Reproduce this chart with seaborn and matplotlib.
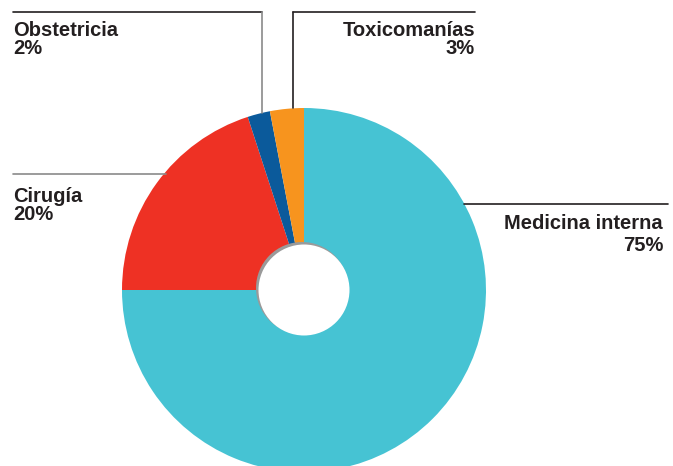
import matplotlib
matplotlib.use('Agg')
import matplotlib.pyplot as plt
import seaborn as sns
from matplotlib.patches import Circle

sns.set_theme(style="white")
plt.rcParams['font.family'] = ['Liberation Sans', 'DejaVu Sans']

# data
labels = ["Medicina interna", "Cirugía", "Obstetricia", "Toxicomanías"]
shares = [75, 20, 2, 3]
colors = ["#46C3D3", "#EE3124", "#0B5A9B", "#F7941E"]

W, H = 673, 466
fig = plt.figure(figsize=(W / 100, H / 100), dpi=100)
ax = fig.add_axes([0, 0, 1, 1])

cx, cy, R = 304, H - 290, 182
ax.pie(shares, colors=colors, startangle=90, counterclock=False,
       center=(cx, cy), radius=R, frame=True,
       wedgeprops=dict(linewidth=0))

# hole with a soft grey rim on the upper left
ax.add_patch(Circle((cx - 2, cy + 2), 46, color="#9a9a9a", lw=0, zorder=3))
ax.add_patch(Circle((cx, cy), 45.5, color="white", lw=0, zorder=4))

ax.set_xlim(0, W)
ax.set_ylim(0, H)
ax.axis('off')

dark, grey = "#231f20", "#8a8a8a"

def y(p):
    return H - p

# leader lines
ax.plot([13, 262], [y(12), y(12)], color=dark, lw=1.2)
ax.plot([262, 262], [y(12), y(113)], color=grey, lw=1.2)
ax.plot([293, 475], [y(12), y(12)], color=dark, lw=1.2)
ax.plot([293, 293], [y(12), y(108)], color=dark, lw=1.2)
ax.plot([13, 166], [y(174), y(174)], color=grey, lw=1.2)
ax.plot([464, 668], [y(204), y(204)], color=dark, lw=1.2)

fs = 14.5
kw = dict(fontsize=fs, fontweight='bold', color=dark, va='top')
ax.text(13, y(21), f"{labels[2]}\n{shares[2]}%", ha='left', linespacing=0.95, **kw)
ax.text(475, y(21), f"{labels[3]}\n{shares[3]}%", ha='right', multialignment='right',
        linespacing=0.95, **kw)
ax.text(13, y(187), f"{labels[1]}\n{shares[1]}%", ha='left', linespacing=0.95, **kw)
ax.text(663, y(214), f"{labels[0]}\n{shares[0]}%", ha='right', multialignment='right',
        linespacing=1.2, **kw)

fig.savefig("out.png", dpi=100)
